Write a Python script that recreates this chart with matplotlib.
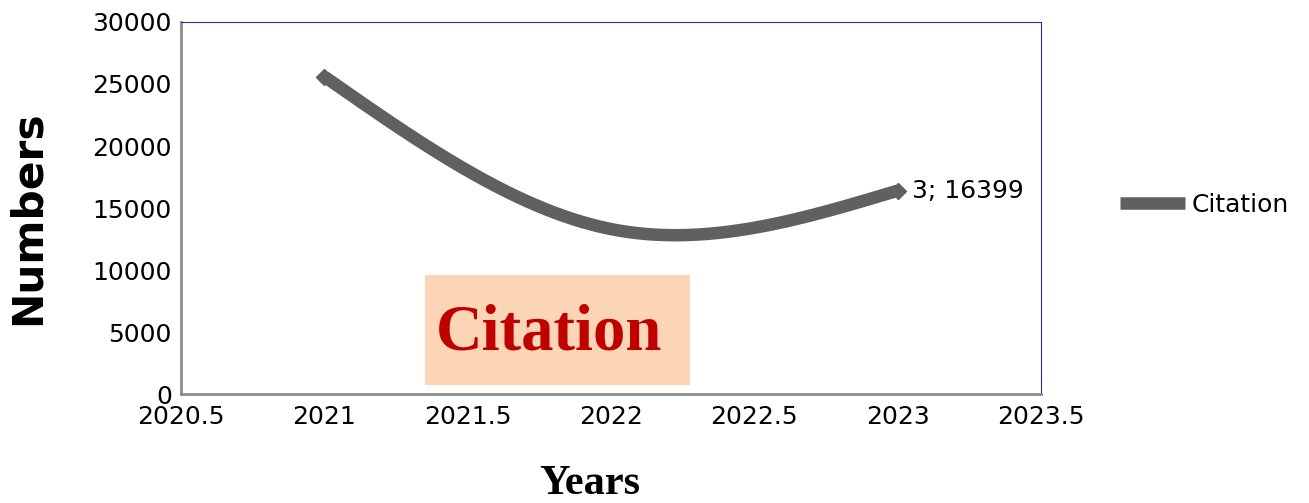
import numpy as np
import matplotlib
matplotlib.use("Agg")
import matplotlib.pyplot as plt
from matplotlib.patches import Rectangle
from matplotlib.lines import Line2D

years = [2021, 2022, 2023]
citations = [25600, 13300, 16399]
series_name = "Citation"
y_ticks = [0, 5000, 10000, 15000, 20000, 25000, 30000]
x_ticks = [2020.5, 2021, 2021.5, 2022, 2022.5, 2023, 2023.5]


def natural_spline(xs, ys, n=200):
    xs = np.asarray(xs, float)
    ys = np.asarray(ys, float)
    k = len(xs)
    h = np.diff(xs)
    A = np.zeros((k, k))
    r = np.zeros(k)
    A[0, 0] = 1
    A[-1, -1] = 1
    for i in range(1, k - 1):
        A[i, i - 1] = h[i - 1]
        A[i, i] = 2 * (h[i - 1] + h[i])
        A[i, i + 1] = h[i]
        r[i] = 6 * ((ys[i + 1] - ys[i]) / h[i] - (ys[i] - ys[i - 1]) / h[i - 1])
    M = np.linalg.solve(A, r)
    xo, yo = [], []
    for i in range(k - 1):
        t = np.linspace(xs[i], xs[i + 1], n)
        a = (xs[i + 1] - t) / h[i]
        b = (t - xs[i]) / h[i]
        s = a * ys[i] + b * ys[i + 1] + ((a ** 3 - a) * M[i] + (b ** 3 - b) * M[i + 1]) * h[i] ** 2 / 6
        xo.append(t)
        yo.append(s)
    return np.concatenate(xo), np.concatenate(yo)


plt.rcParams['font.family'] = ['DejaVu Sans']
fig = plt.figure(figsize=(13.09, 5.03), dpi=100)
ax = fig.add_axes([181 / 1309, 1 - 394 / 503, 860 / 1309, 372 / 503])

line_color = '#606060'
sx, sy = natural_spline(years, citations)
ax.plot(sx, sy, color=line_color, lw=9, solid_capstyle='butt', zorder=3)
ax.plot(years[::2], citations[::2], linestyle='none', marker='D', markersize=8,
        color=line_color, zorder=4)

ax.annotate(f"{len(years)}; {citations[-1]}", xy=(years[-1], citations[-1]),
            xytext=(10, 0), textcoords='offset points', ha='left', va='center',
            fontsize=18, color='black')

ax.set_xlim(2020.5, 2023.5)
ax.set_ylim(0, 30000)
ax.set_xticks(x_ticks)
ax.set_xticklabels([f"{v:g}" for v in x_ticks])
ax.set_yticks(y_ticks)
ax.set_yticklabels([str(v) for v in y_ticks])
ax.tick_params(axis='both', length=0, labelsize=18)
ax.tick_params(axis='y', pad=6.5)
ax.tick_params(axis='x', pad=8)

for s in ['left', 'bottom']:
    ax.spines[s].set_color('#8c8c8c')
    ax.spines[s].set_linewidth(2)
for s in ['top', 'right']:
    ax.spines[s].set_color('#2b2b9a')
    ax.spines[s].set_linewidth(0.8)

# Title box
fig.patches.append(Rectangle((425 / 1309, 1 - 385 / 503), 265 / 1309, 110 / 503,
                             transform=fig.transFigure, facecolor='#FBD5B5',
                             edgecolor='none', zorder=5))
fig.text(549 / 1309, 1 - 333 / 503, series_name, ha='center', va='center',
         fontsize=46.5, fontweight='bold', family='Liberation Serif', color='#C00000', zorder=6)

fig.text(28 / 1309, 1 - 218 / 503, "Numbers", rotation=90, ha='center', va='center',
         fontsize=30.5, fontweight='bold')
fig.text(590 / 1309, 1 - 484 / 503, "Years", ha='center', va='center',
         fontsize=30.5, fontweight='bold', family='Liberation Serif')

handle = Line2D([], [], color=line_color, lw=9, marker='D', markersize=4,
                solid_capstyle='butt')
fig.legend([handle], [series_name], loc='center left',
           bbox_to_anchor=(1107 / 1309, 1 - 205 / 503), frameon=False,
           fontsize=18, handlelength=2.6, handletextpad=0.3, borderpad=0)

fig.savefig('out.png', dpi=100)
